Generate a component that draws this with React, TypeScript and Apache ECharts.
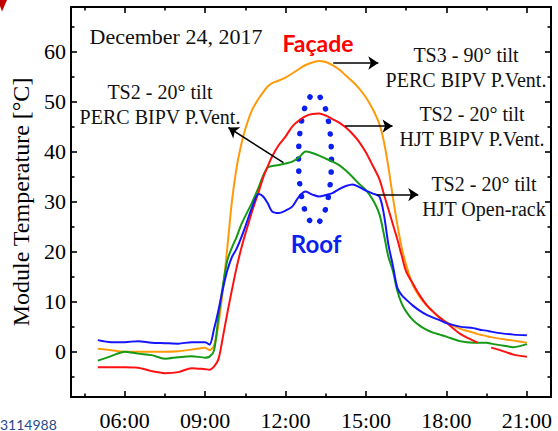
import React, { useEffect, useRef } from "react";
import * as echarts from "echarts";

// Time of day (local) for every sample
const times = [
  "05:00", "05:30", "06:00", "06:30", "07:00", "07:30", "08:00", "08:30", "09:00", "09:10",
  "09:20", "09:30", "09:40", "09:50", "10:00", "10:10", "10:20", "10:30", "10:45", "11:00",
  "11:10", "11:20", "11:30", "11:45", "12:00", "12:15", "12:30", "12:45", "13:00", "13:15",
  "13:30", "13:45", "14:00", "14:15", "14:30", "14:45", "15:00", "15:15", "15:30", "15:40",
  "15:50", "16:00", "16:10", "16:20", "16:30", "16:45", "17:00", "17:15", "17:30", "17:45",
  "18:00", "18:30", "19:00", "19:10", "19:20", "19:30", "19:40", "20:00", "20:30", "21:00",
];

// TS3 - 90° tilt, PERC BIPV P.Vent. (façade)
const ts3PercBipv = [
  0.6, 0.3, 0.0, 0.0, 0.0, 0.0, 0.1, 0.4, 0.8, 0.3,
  1.2, 5.5, 12.5, 21.0, 30.0, 36.5, 41.0, 44.5, 48.3, 50.6,
  51.9, 53.0, 53.7, 54.2, 54.8, 55.6, 56.5, 57.3, 57.8, 58.1,
  57.9, 57.3, 56.4, 55.2, 54.0, 52.6, 50.8, 48.5, 45.5, 42.0,
  37.0, 31.0, 25.5, 20.8, 17.3, 13.3, 11.0, 9.3, 8.0, 6.8,
  5.9, 4.6, 3.8, 3.5, 3.3, 3.1, 2.9, 2.6, 2.2, 1.8,
];

// TS2 - 20° tilt, HJT BIPV P.Vent. (logger gap around 19:20-19:30)
const ts2HjtBipv = [
  -3.1, -3.1, -3.1, -3.2, -3.9, -4.3, -4.1, -3.3, -3.5, -3.6,
  -3.0, -1.5, 3.0, 7.8, 12.3, 16.6, 20.3, 23.5, 28.0, 32.0,
  34.8, 37.0, 39.0, 41.3, 43.0, 45.0, 46.2, 47.1, 47.5, 47.6,
  47.2, 46.5, 45.8, 44.8, 43.5, 41.9, 39.8, 37.2, 34.5, 31.5,
  28.5, 25.5, 22.5, 19.2, 16.0, 13.6, 11.3, 9.4, 8.0, 6.8,
  5.8, 3.6, 2.2, 1.8, null, null, 0.8, 0.3, -0.6, -1.0,
];

// TS2 - 20° tilt, PERC BIPV P.Vent.
const ts2PercBipv = [
  -1.8, -0.9, 0.0, -0.4, -0.7, -1.4, -1.1, -0.9, -1.2, -1.0,
  0.2, 7.0, 13.3, 18.3, 20.8, 22.8, 25.2, 27.1, 29.8, 32.9,
  35.2, 36.8, 37.1, 37.3, 37.6, 38.0, 38.8, 40.0, 39.7, 39.2,
  38.6, 38.0, 37.3, 36.2, 34.9, 33.5, 32.3, 30.4, 27.5, 23.5,
  19.0, 16.2, 12.2, 9.6, 8.0, 6.3, 5.2, 4.4, 3.8, 3.4,
  3.0, 2.1, 1.8, 1.8, 1.8, 1.8, 1.6, 1.3, 0.9, 1.5,
];

// TS2 - 20° tilt, HJT Open-rack
const ts2HjtOpenRack = [
  2.3, 1.9, 1.9, 2.1, 1.8, 1.7, 1.6, 1.9, 1.9, 1.4,
  4.5, 8.3, 12.6, 16.3, 18.9, 20.5, 22.6, 25.0, 28.8, 31.5,
  31.0, 29.7, 28.0, 27.7, 28.2, 29.0, 31.0, 32.0, 31.4, 31.0,
  31.3, 31.7, 32.5, 33.1, 33.4, 32.9, 32.2, 31.6, 31.0, 27.5,
  21.5, 17.3, 12.8, 11.3, 10.4, 9.2, 8.2, 7.4, 6.8, 6.3,
  5.7, 5.0, 4.7, 4.5, 4.3, 4.2, 4.0, 3.7, 3.4, 3.3,
];

// Axis ticks (hours of day / °C)
const hourLabels = [6, 9, 12, 15, 18, 21];
const hourMinor = [4.5, 7.5, 10.5, 13.5, 16.5, 19.5];
const tempLabels = [0, 10, 20, 30, 40, 50, 60];
const tempMinor = [-5, 5, 15, 25, 35, 45, 55, 65];

// Callout arrows: [fromHour, fromTemp, toHour, toTemp]
const arrowPerc20: number[] = [11.92, 37.8, 9.87, 44.8];
const arrowPerc90: number[] = [13.78, 57.7, 15.46, 57.7];
const arrowHjtBipv: number[] = [14.22, 45.1, 15.99, 45.1];
const arrowOpenRack: number[] = [15.4, 31.4, 16.95, 31.4];

const SERIF = '"Liberation Serif", "Times New Roman", serif';
const SANS = 'Lato, "Open Sans", sans-serif';

const X_MIN = 4;
const X_MAX = 21.9;
const Y_MIN = -9.07;
const Y_MAX = 68.9;

const toHours = (t: string) => {
  const [h, m] = t.split(":").map(Number);
  return h + m / 60;
};
const pad = (n: number) => (n < 10 ? "0" + n : "" + n);
const hhmm = (v: number) => {
  const h = Math.floor(v + 1e-6);
  const m = Math.round((v - h) * 60);
  return pad(h) + ":" + pad(m);
};

const pairs = (vals: (number | null)[]) => times.map((t, i) => [toHours(t), vals[i]]);

const arrowMark = (a: number[]) => ({
  silent: true,
  symbol: ["none", "arrow"],
  symbolSize: 10,
  label: { show: false },
  emphasis: { disabled: true },
  lineStyle: { color: "#000", width: 1.6, type: "solid" },
  data: [[{ coord: [a[0], a[1]] }, { coord: [a[2], a[3]] }]],
});

const lineSeries = (name: string, vals: (number | null)[], color: string, arrow: number[]) => ({
  name,
  type: "line",
  data: pairs(vals),
  smooth: 0.3,
  showSymbol: false,
  symbol: "none",
  connectNulls: false,
  lineStyle: { color, width: 2 },
  itemStyle: { color },
  xAxisIndex: 0,
  yAxisIndex: 0,
  markLine: arrowMark(arrow),
});

const tickAxisX = (position: "top" | "bottom", values: number[], length: number, labels: boolean) => ({
  type: "value",
  min: X_MIN,
  max: X_MAX,
  position,
  axisLine: { show: false, onZero: false },
  splitLine: { show: false },
  axisTick: { show: true, inside: true, length, lineStyle: { color: "#000", width: 1.6 }, customValues: values },
  axisLabel: labels
    ? { show: true, customValues: values, formatter: (v: number) => hhmm(v), fontFamily: SERIF, fontSize: 22, color: "#000", margin: 12 }
    : { show: false },
});

const tickAxisY = (position: "left" | "right", values: number[], length: number, labels: boolean) => ({
  type: "value",
  min: Y_MIN,
  max: Y_MAX,
  position,
  axisLine: { show: false, onZero: false },
  splitLine: { show: false },
  axisTick: { show: true, inside: true, length, lineStyle: { color: "#000", width: 1.6 }, customValues: values },
  axisLabel: labels
    ? { show: true, customValues: values, fontFamily: SERIF, fontSize: 22, color: "#000", margin: 5 }
    : { show: false },
});

const annotation = (x: number, y: number, text: string) => ({
  type: "text",
  x,
  y,
  silent: true,
  style: {
    text,
    fontFamily: SERIF,
    fontSize: 20,
    lineHeight: 25,
    fill: "#111",
    textAlign: "center",
    textVerticalAlign: "middle",
  },
});

export default function App() {
  const ref = useRef<HTMLDivElement>(null);

  useEffect(() => {
    if (!ref.current) return;
    const chart = echarts.init(ref.current, null, { renderer: "svg" });

    const yMain: any = tickAxisY("left", tempLabels, 6, true);
    yMain.name = "Module Temperature [°C]";
    yMain.nameLocation = "middle";
    yMain.nameGap = 31;
    yMain.nameTextStyle = { fontFamily: SERIF, fontSize: 24, color: "#000" };

    chart.setOption({
      animation: false,
      backgroundColor: "#fff",
      grid: {
        show: true,
        left: 71,
        right: 7,
        top: 7,
        bottom: 33,
        borderColor: "#000",
        borderWidth: 2,
        backgroundColor: "transparent",
      },
      xAxis: [
        tickAxisX("bottom", hourLabels, 6, true),
        tickAxisX("bottom", hourMinor, 3.5, false),
        tickAxisX("top", hourLabels, 6, false),
        tickAxisX("top", hourMinor, 3.5, false),
      ],
      yAxis: [
        yMain,
        tickAxisY("left", tempMinor, 3.5, false),
        tickAxisY("right", tempLabels, 6, false),
        tickAxisY("right", tempMinor, 3.5, false),
      ],
      series: [
        lineSeries("TS3 - 90° tilt PERC BIPV P.Vent.", ts3PercBipv, "#ff9a0a", arrowPerc90),
        lineSeries("TS2 - 20° tilt PERC BIPV P.Vent.", ts2PercBipv, "#149a14", arrowPerc20),
        lineSeries("TS2 - 20° tilt HJT BIPV P.Vent.", ts2HjtBipv, "#ff1010", arrowHjtBipv),
        lineSeries("TS2 - 20° tilt HJT Open-rack", ts2HjtOpenRack, "#1414ff", arrowOpenRack),
      ],
      graphic: [
        {
          type: "text",
          x: 176,
          y: 36,
          silent: true,
          style: {
            text: "December 24, 2017",
            fontFamily: SERIF,
            fontSize: 22,
            fill: "#111",
            textAlign: "center",
            textVerticalAlign: "middle",
          },
        },
        annotation(160, 104, "TS2 - 20° tilt\nPERC BIPV P.Vent."),
        annotation(466, 67.5, "TS3 - 90° tilt\nPERC BIPV P.Vent."),
        annotation(472, 126.5, "TS2 - 20° tilt\nHJT BIPV P.Vent."),
        annotation(484, 196.5, "TS2 - 20° tilt\nHJT Open-rack"),
        {
          type: "text",
          x: 318,
          y: 43,
          silent: true,
          style: {
            text: "Façade",
            fontFamily: SANS,
            fontWeight: "bold",
            fontSize: 23,
            fill: "#ff0000",
            textAlign: "center",
            textVerticalAlign: "middle",
          },
        },
        {
          type: "text",
          x: 316,
          y: 243,
          silent: true,
          style: {
            text: "Roof",
            fontFamily: SANS,
            fontWeight: "bold",
            fontSize: 24,
            fill: "#0a1ef0",
            textAlign: "center",
            textVerticalAlign: "middle",
          },
        },
        {
          type: "ellipse",
          silent: true,
          shape: { cx: 315, cy: 159, rx: 16.5, ry: 65 },
          style: {
            fill: "none",
            stroke: "#0a1ef0",
            lineWidth: 5.5,
            lineCap: "round",
            lineDash: [0.1, 12.6],
          },
        },
        {
          type: "polygon",
          silent: true,
          shape: { points: [[0, 0], [7, 0], [2, 11.5], [0, 6]] },
          style: { fill: "#c00000" },
        },
        {
          type: "text",
          x: 0,
          y: 431,
          silent: true,
          style: {
            text: "3114988",
            fontFamily: SANS,
            fontSize: 14,
            fill: "#2b4a8b",
            textAlign: "left",
            textVerticalAlign: "bottom",
          },
        },
      ],
    });

    return () => chart.dispose();
  }, []);

  return (
    <div
      ref={ref}
      style={{ position: "fixed", left: 0, top: 0, width: 558, height: 431, background: "#fff" }}
    />
  );
}
